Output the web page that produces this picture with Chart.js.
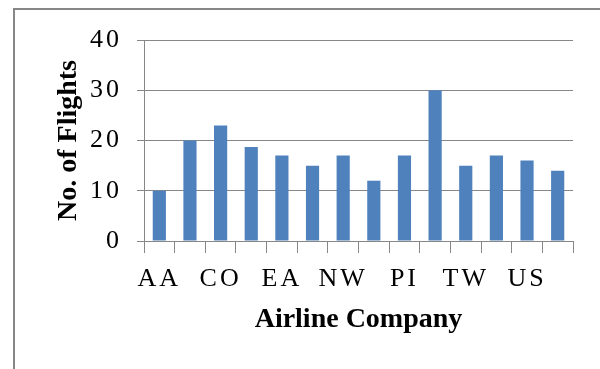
<!DOCTYPE html>
<html>
<head>
<meta charset="utf-8">
<script src="https://cdn.jsdelivr.net/npm/chart.js@4"></script>
<style>
  html, body { margin:0; padding:0; background:#fff; overflow:hidden; }
  #wrap { position:relative; width:600px; height:369px; }
  #frame { position:absolute; left:13px; top:8px; width:700px; height:500px; border:2px solid #878787; }
  canvas { position:absolute; left:0; top:0; }
</style>
</head>
<body>
<div id="wrap">
  <div id="frame"></div>
  <canvas id="flights" width="600" height="369"></canvas>
</div>
<script>
// Flights per airline company
const airlines = ['AA','AL','CO','DL','EA','HP','NW','PA','PI','PS','TW','UA','US','WN'];
const flights = [10, 20, 23, 18.7, 17, 15, 17, 12, 17, 30, 15, 17, 16, 14];
const yTicks = [0, 10, 20, 30, 40];

const serif = '"Liberation Serif", "Times New Roman", serif';

// the original tick labels look a bit stretched, so space the letters out
function spaced(s) {
  if (s._spaced) return;
  const orig = s.drawLabels.bind(s);
  s.drawLabels = area => {
    s.ctx.save();
    s.ctx.letterSpacing = '3px';
    orig(area);
    s.ctx.restore();
  };
  s._spaced = true;
}

new Chart(document.getElementById('flights').getContext('2d'), {
  type: 'bar',
  data: {
    labels: airlines,
    datasets: [{ data: flights, backgroundColor: '#4F81BD', categoryPercentage: 1, barPercentage: 0.43 }]
  },
  options: {
    responsive: false,
    animation: false,
    layout: { padding: { left: 48, top: 40, right: 27, bottom: 28 } },
    plugins: { legend: { display: false }, tooltip: { enabled: false } },
    scales: {
      x: {
        afterFit: s => { s.height = 100; },
        afterUpdate: spaced,
        grid: { offset: true, drawOnChartArea: false, drawTicks: true, tickLength: 12, color: '#878787' },
        border: { color: '#878787' },
        ticks: {
          autoSkip: false, maxRotation: 0, padding: 11, color: '#000',
          font: { family: serif, size: 26 },
          callback: (v, i) => i % 2 === 0 ? airlines[i] : ''
        },
        title: { display: true, text: 'Airline Company', color: '#000', font: { family: serif, size: 28, weight: 'bold' } }
      },
      y: {
        min: 0, max: 40,
        afterFit: s => { s.width = 96; },
        afterUpdate: spaced,
        afterBuildTicks: s => { s.ticks = yTicks.map(v => ({ value: v })); },
        grid: { color: '#878787', tickLength: 7 },
        border: { color: '#878787' },
        ticks: { padding: 15, color: '#000', font: { family: serif, size: 26 } },
        title: { display: true, text: 'No. of Flights', color: '#000', font: { family: serif, size: 28, weight: 'bold' } }
      }
    }
  }
});
</script>
</body>
</html>
